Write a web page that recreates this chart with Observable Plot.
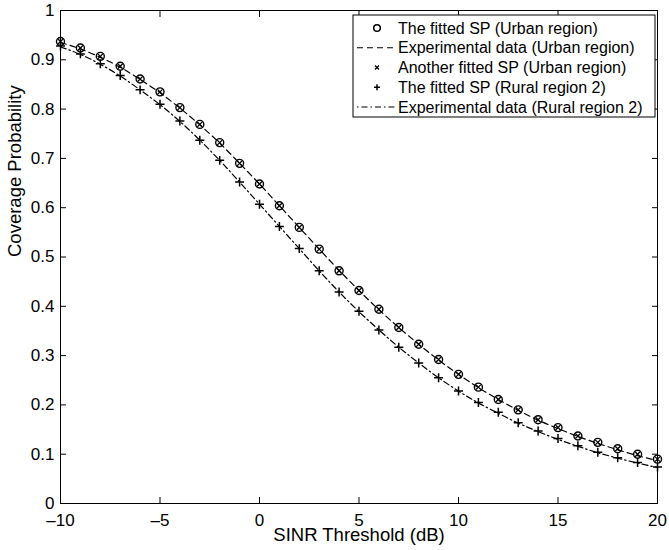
<!DOCTYPE html>
<html>
<head>
<meta charset="utf-8">
<script src="https://cdn.jsdelivr.net/npm/d3@7"></script>
<script src="https://cdn.jsdelivr.net/npm/@observablehq/plot@0.6"></script>
<style>
  body { margin: 0; background: #fff; }
  #chart svg { display: block; }
</style>
</head>
<body>
<div id="chart"></div>
<script>
// ---- data ----
const sinrThreshold = [-10, -9, -8, -7, -6, -5, -4, -3, -2, -1, 0, 1, 2, 3, 4, 5, 6, 7, 8, 9, 10, 11, 12, 13, 14, 15, 16, 17, 18, 19, 20];
const fittedUrban = [0.937, 0.924, 0.907, 0.887, 0.861, 0.835, 0.803, 0.769, 0.732, 0.690, 0.648, 0.604, 0.560, 0.516, 0.472, 0.432, 0.394, 0.357, 0.323, 0.292, 0.262, 0.236, 0.211, 0.190, 0.170, 0.154, 0.137, 0.124, 0.111, 0.100, 0.090];
const experimentalUrban = [0.935, 0.922, 0.905, 0.885, 0.860, 0.833, 0.802, 0.768, 0.731, 0.690, 0.648, 0.604, 0.560, 0.516, 0.473, 0.432, 0.393, 0.357, 0.323, 0.291, 0.262, 0.235, 0.211, 0.189, 0.169, 0.152, 0.136, 0.122, 0.109, 0.097, 0.087];
const anotherFittedUrban = [0.937, 0.924, 0.907, 0.887, 0.861, 0.835, 0.803, 0.769, 0.732, 0.690, 0.648, 0.604, 0.560, 0.516, 0.472, 0.432, 0.394, 0.357, 0.323, 0.292, 0.262, 0.236, 0.211, 0.190, 0.170, 0.154, 0.137, 0.124, 0.111, 0.100, 0.090];
const fittedRural2 = [0.928, 0.912, 0.892, 0.868, 0.839, 0.810, 0.776, 0.737, 0.696, 0.652, 0.607, 0.562, 0.517, 0.472, 0.429, 0.390, 0.352, 0.317, 0.285, 0.255, 0.228, 0.205, 0.185, 0.164, 0.147, 0.132, 0.117, 0.104, 0.093, 0.083, 0.074];
const experimentalRural2 = [0.926, 0.911, 0.891, 0.867, 0.839, 0.809, 0.775, 0.737, 0.696, 0.652, 0.607, 0.562, 0.517, 0.472, 0.429, 0.389, 0.352, 0.317, 0.285, 0.255, 0.228, 0.204, 0.183, 0.163, 0.146, 0.130, 0.116, 0.103, 0.092, 0.082, 0.073];

const seriesNames = [
  "The fitted SP (Urban region)",
  "Experimental data (Urban region)",
  "Another fitted SP (Urban region)",
  "The fitted SP (Rural region 2)",
  "Experimental data (Rural region 2)"
];
const xTicks = [-10, -5, 0, 5, 10, 15, 20];
const yTicks = [0, 0.1, 0.2, 0.3, 0.4, 0.5, 0.6, 0.7, 0.8, 0.9, 1];
const xLabel = "SINR Threshold (dB)";
const yLabel = "Coverage Probability";

// ---- tables ----
const rows = (ys) => sinrThreshold.map((x, i) => ({x, y: ys[i]}));
const fmtX = d => d < 0 ? "\u2013" + Math.abs(d) : String(d);
const fmtY = d => String(+d.toFixed(1));

const FONT = "'Liberation Sans', Arial, Helvetica, sans-serif";

const chart = Plot.plot({
  width: 669,
  height: 550,
  marginLeft: 60,
  marginRight: 12,
  marginTop: 10,
  marginBottom: 47,
  style: {fontFamily: FONT, fontSize: "17px", background: "white", color: "black", overflow: "visible"},
  x: {domain: [-10, 20]},
  y: {domain: [0, 1]},
  marks: [
    Plot.axisX(xTicks, {anchor: "bottom", tickSize: -6, tickPadding: 16, tickFormat: fmtX, label: null, stroke: "black"}),
    Plot.axisX(xTicks, {anchor: "top", tickSize: -6, tickFormat: () => "", label: null, stroke: "black"}),
    Plot.axisY(yTicks, {anchor: "left", tickSize: -6, tickPadding: 12, tickFormat: fmtY, label: null, stroke: "black"}),
    Plot.axisY(yTicks, {anchor: "right", tickSize: -6, tickFormat: () => "", label: null, stroke: "black"}),
    Plot.frame({stroke: "black", strokeWidth: 1}),
    Plot.text([xLabel], {frameAnchor: "bottom", dy: 37, text: d => d, fontSize: 18.5, fill: "black"}),
    Plot.text([yLabel], {frameAnchor: "left", dx: -45, rotate: -90, text: d => d, fontSize: 18.5, fill: "black"}),
    Plot.line(rows(experimentalUrban), {x: "x", y: "y", stroke: "black", strokeWidth: 1.2, strokeDasharray: "6,4", curve: "monotone-x"}),
    Plot.line(rows(experimentalRural2), {x: "x", y: "y", stroke: "black", strokeWidth: 1.2, strokeDasharray: "6,3,1.5,3", curve: "monotone-x"}),
    Plot.dot(rows(fittedUrban), {x: "x", y: "y", r: 4, stroke: "black", strokeWidth: 1.4, symbol: "circle"}),
    Plot.dot(rows(anotherFittedUrban), {x: "x", y: "y", r: 2.4, stroke: "black", strokeWidth: 1.3, symbol: "times"}),
    Plot.dot(rows(fittedRural2), {x: "x", y: "y", r: 3, stroke: "black", strokeWidth: 1.5, symbol: "plus"})
  ]
});

document.getElementById("chart").appendChild(chart);

// ---- legend (inside plot, top-right) ----
const svg = d3.select(chart);
const lg = svg.append("g").attr("font-family", FONT).attr("font-size", 16).attr("text-anchor", "start");
const box = {x: 353, y: 15, w: 302, h: 102};
lg.append("rect").attr("x", box.x).attr("y", box.y).attr("width", box.w).attr("height", box.h)
  .attr("fill", "white").attr("stroke", "black").attr("stroke-width", 1);
const rowY = i => box.y + 13 + i * 19.75;
const symX = 377, lineX1 = 357, lineX2 = 397, textX = 398;
seriesNames.forEach((name, i) => {
  const y = rowY(i);
  if (i === 0) {
    lg.append("circle").attr("cx", symX).attr("cy", y).attr("r", 3.3).attr("fill", "none").attr("stroke", "black").attr("stroke-width", 1.5);
  } else if (i === 1) {
    lg.append("line").attr("x1", lineX1).attr("x2", lineX2).attr("y1", y).attr("y2", y).attr("stroke", "black").attr("stroke-width", 1.2).attr("stroke-dasharray", "6,4");
  } else if (i === 2) {
    const s = 2;
    lg.append("path").attr("d", `M${symX - s},${y - s}L${symX + s},${y + s}M${symX - s},${y + s}L${symX + s},${y - s}`).attr("stroke", "black").attr("stroke-width", 1.3);
  } else if (i === 3) {
    const s = 3;
    lg.append("path").attr("d", `M${symX - s},${y}L${symX + s},${y}M${symX},${y - s}L${symX},${y + s}`).attr("stroke", "black").attr("stroke-width", 1.5);
  } else {
    lg.append("line").attr("x1", lineX1).attr("x2", lineX2).attr("y1", y).attr("y2", y).attr("stroke", "black").attr("stroke-width", 1.2).attr("stroke-dasharray", "1.5,3,6,3");
  }
  lg.append("text").attr("x", textX).attr("y", y).attr("dy", "0.35em").attr("fill", "black").text(name);
});
</script>
</body>
</html>
